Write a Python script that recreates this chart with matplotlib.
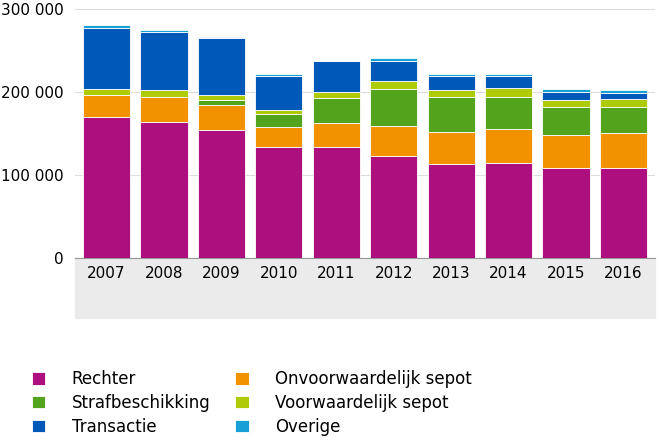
import matplotlib.pyplot as plt
from matplotlib.patches import Rectangle

years = ["2007", "2008", "2009", "2010", "2011", "2012", "2013", "2014", "2015", "2016"]
rechter = [170000, 164000, 154000, 134000, 134000, 123000, 113000, 114000, 109000, 109000]
onvoorwaardelijk = [27000, 30000, 31000, 24000, 29000, 36000, 39000, 42000, 39000, 42000]
strafbeschikking = [0, 0, 6000, 16000, 30000, 45000, 42000, 38000, 34000, 31000]
voorwaardelijk = [7000, 9000, 6000, 5000, 7000, 9000, 9000, 11000, 8000, 10000]
transactie = [73000, 69000, 68000, 40000, 37000, 24000, 17000, 14000, 10000, 7000]
overige = [4000, 3000, 2000, 3000, 1000, 4000, 2000, 3000, 4000, 3000]

series = [
    ("Rechter", rechter, "#ad0f7f"),
    ("Onvoorwaardelijk sepot", onvoorwaardelijk, "#f39200"),
    ("Strafbeschikking", strafbeschikking, "#53a31d"),
    ("Voorwaardelijk sepot", voorwaardelijk, "#afcb08"),
    ("Transactie", transactie, "#0058b8"),
    ("Overige", overige, "#16a0d6"),
]

fig = plt.figure(figsize=(6.6, 4.47), dpi=100)
ax = fig.add_axes([75 / 660, 1 - 258 / 447, 580 / 660, 253 / 447])

# gray band behind the x labels (below the axes, in axes coords)
ax.add_patch(Rectangle((0, -60 / 253), 1, 60 / 253, transform=ax.transAxes,
                       color="#ebebeb", clip_on=False, zorder=0))

bottom = [0] * len(years)
handles = {}
for name, vals, color in series:
    b = ax.bar(years, vals, bottom=bottom, color=color, width=0.82,
               edgecolor="white", linewidth=0.6, label=name, zorder=3)
    handles[name] = b
    bottom = [x + y for x, y in zip(bottom, vals)]

ax.set_ylim(0, 305000)
ax.set_xlim(-0.55, 9.55)
ax.set_yticks([0, 100000, 200000, 300000])
ax.set_yticklabels(["0", "100 000", "200 000", "300 000"], fontsize=11)
ax.tick_params(axis="x", labelsize=11, length=0, pad=6)
ax.tick_params(axis="y", length=0, pad=8)
ax.grid(axis="y", color="#dddddd", linewidth=0.8, zorder=0)
for s in ["top", "right", "left"]:
    ax.spines[s].set_visible(False)
ax.spines["bottom"].set_color("#999999")

# legend is read row-wise in the reference; matplotlib fills columns first
order = ["Rechter", "Strafbeschikking", "Transactie",
         "Onvoorwaardelijk sepot", "Voorwaardelijk sepot", "Overige"]
fig.legend(handles=[handles[n] for n in order], labels=order, ncol=2,
           loc="upper left", bbox_to_anchor=(0.025, 1 - 355 / 447),
           frameon=False, fontsize=12, handlelength=0.8, handleheight=0.8,
           columnspacing=1.5, labelspacing=0.35, handletextpad=1.6)

fig.savefig("out.png", dpi=100)
